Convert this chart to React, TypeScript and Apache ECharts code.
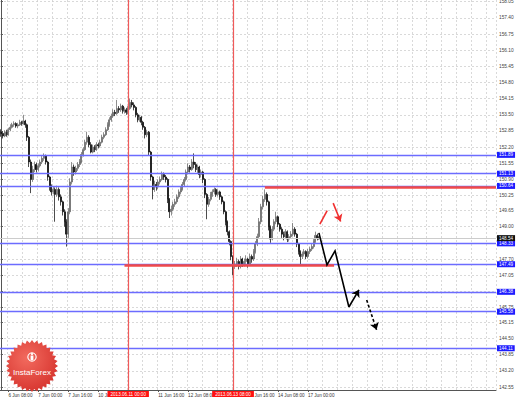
import React, { useEffect, useRef } from "react";
import * as echarts from "echarts";

// ---------- data ----------
const BAR_SLOTS = 265; // hourly slots visible across the plot (incl. empty right margin)
const FIRST_BAR_UTC = Date.UTC(2013, 5, 6, 4); // 2013.06.06 04:00
const MONTHS = ["Jan", "Feb", "Mar", "Apr", "May", "Jun", "Jul", "Aug", "Sep", "Oct", "Nov", "Dec"];

// [open, close, low, high] for each H1 bar
const candles: number[][] = [
  [152.80, 152.75, 152.62, 152.92], [152.75, 152.65, 152.55, 152.82], [152.65, 152.80, 152.60, 152.88],
  [152.80, 152.70, 152.62, 152.90], [152.70, 152.90, 152.66, 152.98], [152.90, 153.00, 152.84, 153.12],
  [153.00, 153.10, 152.95, 153.18], [153.10, 153.15, 153.02, 153.24], [153.15, 153.05, 152.98, 153.20],
  [153.05, 153.10, 152.96, 153.18], [153.10, 153.20, 153.05, 153.30], [153.20, 153.15, 153.06, 153.26],
  [153.15, 153.25, 153.10, 153.50], [153.25, 153.10, 152.98, 153.30], [153.10, 152.60, 152.45, 153.15],
  [152.60, 151.60, 151.40, 152.65], [151.60, 150.90, 150.35, 151.70], [150.90, 151.30, 150.80, 151.45],
  [151.30, 151.50, 151.20, 151.62], [151.50, 151.30, 151.18, 151.58], [151.30, 151.45, 151.22, 151.55],
  [151.45, 151.60, 151.38, 151.70], [151.60, 151.75, 151.52, 151.85], [151.75, 151.85, 151.65, 151.95],
  [151.85, 151.60, 151.50, 151.90], [151.60, 151.00, 150.85, 151.65], [151.00, 150.60, 150.45, 151.05],
  [150.60, 150.40, 150.25, 150.70], [150.40, 150.50, 150.30, 150.62], [150.50, 150.30, 149.20, 150.58],
  [150.30, 150.50, 150.20, 150.65], [150.50, 150.20, 150.05, 150.58], [150.20, 150.00, 149.85, 150.30],
  [150.00, 149.60, 149.45, 150.05], [149.60, 149.20, 149.00, 149.70], [149.20, 148.70, 148.20, 149.30],
  [148.70, 149.60, 148.55, 149.75], [149.60, 150.80, 149.50, 150.95], [150.80, 151.40, 150.70, 151.60],
  [151.40, 151.20, 151.05, 151.50], [151.20, 151.35, 151.10, 151.45], [151.35, 151.50, 151.25, 151.60],
  [151.50, 151.60, 151.40, 151.72], [151.60, 151.90, 151.55, 152.00], [151.90, 152.10, 151.82, 152.20],
  [152.10, 152.40, 152.05, 152.50], [152.40, 152.60, 152.30, 152.82], [152.60, 152.30, 152.20, 152.68],
  [152.30, 152.00, 151.95, 152.40], [152.00, 152.20, 151.95, 152.30], [152.20, 152.10, 152.00, 152.28],
  [152.10, 152.30, 152.05, 152.40], [152.30, 152.25, 152.15, 152.38], [152.25, 152.40, 152.18, 152.50],
  [152.40, 152.60, 152.35, 152.70], [152.60, 152.70, 152.52, 152.80], [152.70, 152.90, 152.65, 153.00],
  [152.90, 153.10, 152.85, 153.20], [153.10, 153.30, 153.02, 153.40], [153.30, 153.45, 153.22, 153.55],
  [153.45, 153.60, 153.38, 153.72], [153.60, 153.55, 153.45, 153.70], [153.55, 153.75, 153.50, 154.10],
  [153.75, 153.70, 153.58, 153.85], [153.70, 153.85, 153.62, 153.95], [153.85, 153.65, 153.55, 153.90],
  [153.65, 153.70, 153.55, 153.80], [153.70, 153.60, 153.50, 153.78], [153.60, 153.75, 153.52, 153.85],
  [153.75, 154.00, 153.70, 154.15], [154.00, 153.90, 153.80, 154.10], [153.90, 153.80, 153.68, 154.00],
  [153.80, 153.50, 153.40, 153.85], [153.50, 153.30, 153.20, 153.58], [153.30, 153.40, 153.22, 153.50],
  [153.40, 153.20, 153.08, 153.45], [153.20, 153.00, 152.90, 153.25], [153.00, 152.70, 152.55, 153.05],
  [152.70, 152.80, 152.60, 152.90], [152.80, 152.00, 151.85, 152.85], [152.00, 151.00, 150.85, 152.05],
  [151.00, 150.50, 150.10, 151.05], [150.50, 150.70, 150.40, 150.85], [150.70, 150.60, 150.45, 150.80],
  [150.60, 150.80, 150.52, 150.90], [150.80, 150.90, 150.70, 151.02], [150.90, 151.10, 150.85, 151.22],
  [151.10, 151.00, 150.88, 151.18], [151.00, 150.90, 150.78, 151.08], [150.90, 150.10, 149.95, 150.95],
  [150.10, 149.60, 149.35, 150.15], [149.60, 149.70, 149.45, 149.85], [149.70, 149.90, 149.62, 150.00],
  [149.90, 150.00, 149.80, 150.12], [150.00, 150.20, 149.92, 150.30], [150.20, 150.40, 150.12, 150.50],
  [150.40, 150.50, 150.30, 150.62], [150.50, 150.70, 150.45, 150.80], [150.70, 150.90, 150.62, 151.00],
  [150.90, 151.20, 150.82, 151.30], [151.20, 151.40, 151.10, 151.55], [151.40, 151.30, 151.18, 151.48],
  [151.30, 151.60, 151.25, 151.72], [151.60, 151.50, 151.35, 151.95], [151.50, 151.30, 151.20, 151.60],
  [151.30, 151.40, 151.15, 151.50], [151.40, 151.10, 150.95, 151.45], [151.10, 151.20, 150.98, 151.30],
  [151.20, 150.90, 150.75, 151.25], [150.90, 150.30, 150.15, 150.95], [150.30, 149.90, 149.30, 150.35],
  [149.90, 150.10, 149.80, 150.20], [150.10, 150.30, 150.02, 150.40], [150.30, 150.40, 150.20, 150.50],
  [150.40, 150.50, 150.30, 150.58], [150.50, 150.30, 150.20, 150.55], [150.30, 150.40, 150.22, 150.50],
  [150.40, 150.20, 150.08, 150.45], [150.20, 150.00, 149.90, 150.25], [150.00, 149.60, 149.50, 150.05],
  [149.60, 149.20, 149.05, 149.65], [149.20, 148.80, 148.65, 149.25], [148.80, 148.40, 148.25, 148.85],
  [148.40, 147.80, 147.65, 148.45], [147.80, 147.40, 147.05, 147.85], [147.40, 147.50, 147.30, 147.62],
  [147.50, 147.60, 147.38, 147.75], [147.60, 147.40, 147.28, 147.68], [147.40, 147.70, 147.32, 147.82],
  [147.70, 147.50, 147.38, 147.75], [147.50, 147.60, 147.40, 147.72], [147.60, 147.70, 147.48, 147.85],
  [147.70, 147.50, 147.35, 147.75], [147.50, 147.80, 147.45, 147.92], [147.80, 147.70, 147.55, 147.88],
  [147.70, 148.00, 147.62, 148.10], [148.00, 148.30, 147.92, 148.42], [148.30, 148.60, 148.22, 148.72],
  [148.60, 149.20, 148.52, 149.35], [149.20, 149.80, 149.10, 149.92], [149.80, 150.10, 149.70, 150.25],
  [150.10, 150.30, 150.00, 150.50], [150.30, 150.00, 149.85, 150.38], [150.00, 149.00, 148.85, 150.05],
  [149.00, 148.50, 148.35, 149.05], [148.50, 148.90, 148.45, 149.02], [148.90, 149.20, 148.82, 149.30],
  [149.20, 149.40, 149.10, 149.60], [149.40, 149.10, 148.98, 149.45], [149.10, 148.90, 148.80, 149.15],
  [148.90, 148.70, 148.55, 148.98], [148.70, 148.60, 148.45, 148.80], [148.60, 148.80, 148.52, 148.90],
  [148.80, 148.50, 148.38, 148.85], [148.50, 148.60, 148.40, 148.70], [148.60, 148.70, 148.52, 148.82],
  [148.70, 148.90, 148.62, 149.15], [148.90, 148.70, 148.60, 148.98], [148.70, 148.30, 148.18, 148.75],
  [148.30, 148.00, 147.88, 148.35], [148.00, 147.80, 147.45, 148.05], [147.80, 147.90, 147.70, 148.00],
  [147.90, 148.00, 147.80, 148.10], [148.00, 147.80, 147.70, 148.05], [147.80, 148.00, 147.72, 148.10],
  [148.00, 148.10, 147.90, 148.20], [148.10, 148.20, 148.02, 148.30], [148.20, 148.40, 148.12, 148.50],
  [148.40, 148.65, 148.35, 148.80], [148.65, 148.55, 148.45, 148.72], [148.55, 148.54, 148.48, 148.62],
];

const yMin = 142.43;
const yMax = 158.12;
const yTickValues = [
  158.05, 157.40, 156.75, 156.10, 155.45, 154.80, 154.15, 153.50, 152.85, 152.20, 151.55, 150.90,
  150.25, 149.65, 149.00, 148.35, 147.70, 147.05, 146.40, 145.75, 145.15, 144.50, 143.85, 143.20, 142.55,
];
// time labels shown on the axis (the ones under the red date boxes are hidden in the reference)
const xLabelIndices = [4, 20, 36, 52, 84, 100, 132, 148, 164];
const xTickIndices = [4, 20, 36, 52, 68, 84, 100, 116, 132, 148, 164];
const blueLevels = [151.89, 151.13, 150.64, 148.33, 147.49, 146.38, 145.58, 144.11];
const bidPrice = 148.54;
const verticalMarks = [
  { index: 68, label: "2013.06.11 00:00" },
  { index: 124, label: "2013.06.13 08:00" },
];
// red support / resistance segments: [fromBar, toBar, price]
const redLevels = [
  [141, 264.5, 150.6],
  [66, 178, 147.45],
];
// forecast drawings in [bar index, price]
const forecastSolid = [[169.9, 148.75], [174.2, 147.46], [178.5, 148.03], [185.9, 145.77]];
const forecastSolidLast = [[185.9, 145.77], [191.3, 146.46]];
const forecastDashed = [[195.4, 146.05], [200.7, 144.85]];
const redUpStroke = [[170.4, 149.1], [174.3, 149.65]];
const redDownArrow = [[177.5, 149.95], [181.5, 149.21]];

// ---------- helpers ----------
function buildCategories(): string[] {
  const out: string[] = [];
  let t = FIRST_BAR_UTC;
  while (out.length < BAR_SLOTS) {
    const d = new Date(t);
    const wd = d.getUTCDay();
    if (wd !== 0 && wd !== 6) {
      out.push(`${d.getUTCDate()} ${MONTHS[d.getUTCMonth()]} ${String(d.getUTCHours()).padStart(2, "0")}:00`);
    }
    t += 3600000;
  }
  return out;
}

function badgePoints(cx: number, cy: number, rOut: number, rIn: number, n: number): number[][] {
  const pts: number[][] = [];
  for (let k = 0; k < n * 2; k++) {
    const r = k % 2 === 0 ? rOut : rIn;
    const a = (k * Math.PI) / n;
    pts.push([cx + r * Math.cos(a), cy + r * Math.sin(a)]);
  }
  return pts;
}

const FONT = "Liberation Sans";

export default function App() {
  const ref = useRef<HTMLDivElement>(null);

  useEffect(() => {
    if (!ref.current) return;
    const chart = echarts.init(ref.current, undefined, { renderer: "svg" });
    const categories = buildCategories();
    const labelSet = new Set(xLabelIndices);
    const tickSet = new Set(xTickIndices);

    const boxLabel = (text: string, bg: string, position: string) => ({
      show: true,
      position,
      distance: 1,
      formatter: text,
      color: "#ffffff",
      backgroundColor: bg,
      fontSize: 4.6,
      fontFamily: FONT,
      padding: [1, 2, 0, 2],
    });

    const markLineData: any[] = [];
    blueLevels.forEach((v) => {
      markLineData.push({
        yAxis: v,
        lineStyle: { color: "#6c6cff", width: 1.4, type: "solid" },
        label: boxLabel(v.toFixed(2), "#1c1cff", "end"),
      });
    });
    markLineData.push({
      yAxis: bidPrice,
      lineStyle: { color: "#cccccc", width: 1, type: "solid" },
      label: boxLabel(bidPrice.toFixed(2), "#111111", "end"),
    });
    verticalMarks.forEach((m) => {
      markLineData.push({
        xAxis: m.index,
        lineStyle: { color: "#f05a5a", width: 1.2, type: "solid" },
        label: { ...boxLabel(m.label, "#ff1010", "start"), padding: [1, 3, 0, 3] },
      });
    });

    const annot = (coords: number[][], color: string, width: number, type: any, arrow: boolean) => ({
      type: "lines",
      coordinateSystem: "cartesian2d",
      xAxisIndex: 1,
      yAxisIndex: 0,
      polyline: coords.length > 2,
      symbol: arrow ? ["none", "arrow"] : ["none", "none"],
      symbolSize: 7,
      silent: true,
      z: 5,
      lineStyle: { color, width, type, opacity: 1 },
      itemStyle: { color },
      data: [{ coords }],
    });

    const option: any = {
      animation: false,
      backgroundColor: "#ffffff",
      grid: { left: 0, right: 23, top: 0, bottom: 10, containLabel: false, outerBoundsMode: "none" },
      xAxis: [
        {
          type: "category",
          data: categories,
          boundaryGap: true,
          axisLine: { show: true, lineStyle: { color: "#555555", width: 1 } },
          axisTick: {
            show: true,
            alignWithLabel: true,
            interval: (i: number) => tickSet.has(i),
            length: 2,
            lineStyle: { color: "#555555" },
          },
          axisLabel: {
            show: true,
            interval: (i: number) => labelSet.has(i),
            fontSize: 4.6,
            fontFamily: FONT,
            color: "#333333",
            align: "left",
            margin: 3,
          },
          splitLine: {
            show: true,
            interval: (i: number) => i >= 4 && (i - 4) % 8 === 0,
            lineStyle: { color: "#cfcfcf", width: 0.8, type: [2, 2] },
          },
        },
        { type: "value", min: -0.5, max: BAR_SLOTS - 0.5, show: false },
      ],
      yAxis: {
        type: "value",
        position: "right",
        min: yMin,
        max: yMax,
        axisLine: { show: true, lineStyle: { color: "#555555", width: 1 } },
        axisTick: { show: true, customValues: yTickValues, length: 2, lineStyle: { color: "#555555" } },
        axisLabel: {
          show: true,
          customValues: yTickValues,
          formatter: (v: number) => v.toFixed(2),
          fontSize: 4.8,
          fontFamily: FONT,
          color: "#444444",
          margin: 3,
        },
        splitLine: { show: true, lineStyle: { color: "#cfcfcf", width: 0.8, type: [2, 2] } },
      },
      series: [
        {
          type: "candlestick",
          xAxisIndex: 0,
          yAxisIndex: 0,
          data: candles,
          barWidth: 1.5,
          z: 3,
          itemStyle: {
            color: "#7c7c7c",
            color0: "#000000",
            borderColor: "#5e5e5e",
            borderColor0: "#000000",
            borderWidth: 0.7,
          },
        },
        {
          type: "line",
          xAxisIndex: 1,
          yAxisIndex: 0,
          data: [],
          silent: true,
          z: 4,
          color: "#6c6cff",
          markLine: {
            silent: true,
            symbol: ["none", "none"],
            animation: false,
            data: markLineData,
          },
        },
        ...redLevels.map((r) => annot([[r[0], r[2]], [r[1], r[2]]], "#f04a4a", 2.5, "solid", false)),
        annot(forecastSolid, "#000000", 1.6, "solid", false),
        annot(forecastSolidLast, "#000000", 1.6, "solid", true),
        annot(forecastDashed, "#000000", 1.6, [3, 2], true),
        annot(redUpStroke, "#f03030", 1.6, "solid", false),
        annot(redDownArrow, "#f03030", 1.6, "solid", true),
      ],
      graphic: [
        {
          type: "polygon",
          z: 100,
          shape: { points: badgePoints(32, 366, 26, 23, 32) },
          style: {
            fill: new echarts.graphic.RadialGradient(0.4, 0.35, 0.75, [
              { offset: 0, color: "#f26a5e" },
              { offset: 1, color: "#d42f2a" },
            ]),
          },
        },
        {
          type: "circle",
          z: 101,
          shape: { cx: 32, cy: 357, r: 4.2 },
          style: { fill: "none", stroke: "#ffffff", lineWidth: 1.1 },
        },
        {
          type: "rect",
          z: 101,
          shape: { x: 30.6, y: 355.5, width: 2.8, height: 5 },
          style: { fill: "#ffffff" },
        },
        {
          type: "circle",
          z: 101,
          shape: { cx: 32, cy: 354, r: 1.1 },
          style: { fill: "#ffffff" },
        },
        {
          type: "text",
          z: 101,
          x: 32,
          y: 372,
          style: {
            text: "InstaForex",
            fill: "#ffffff",
            fontSize: 8,
            fontFamily: "Liberation Sans",
            align: "center",
            verticalAlign: "middle",
          },
        },
      ],
    };

    chart.setOption(option);
    return () => chart.dispose();
  }, []);

  return (
    <div
      ref={ref}
      style={{ position: "absolute", left: 0, top: 0, width: 519, height: 400, background: "#fff" }}
    />
  );
}
